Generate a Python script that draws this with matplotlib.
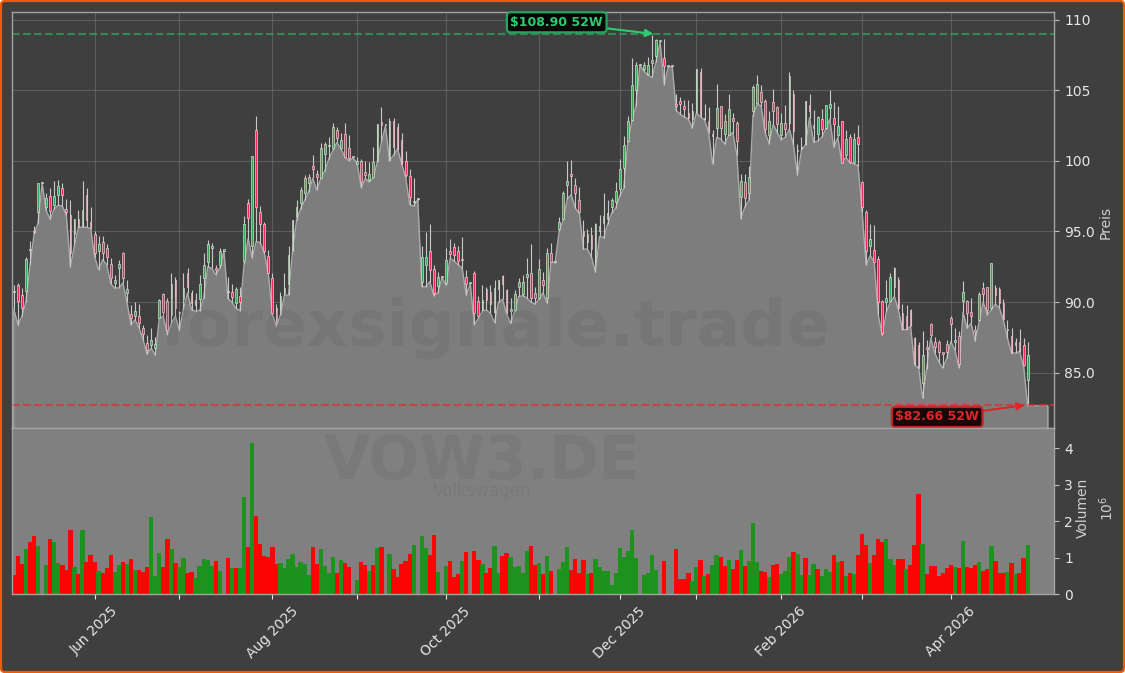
import numpy as np
import matplotlib
matplotlib.use("Agg")
import matplotlib.pyplot as plt
from matplotlib.patches import FancyBboxPatch
from matplotlib.transforms import IdentityTransform

opens = [90.7,91.2,90.5,90.8,93.7,95.05,96.35,98.45,96.7,97.5,
 96.9,97.6,98.1,96.6,96.15,94.8,95.85,95.4,97.6,95.7,
 94.8,93.6,94.25,93.8,92.7,91.35,92.4,93.5,90.65,89.15,
 89,89,88.15,87.1,87,86.75,88.9,90.55,90.1,89.1,
 91.6,89.25,90.25,92.05,90.65,89.8,90.25,91.7,92.85,93.8,
 92.4,92.6,93.65,90.7,90.7,89.95,90.45,92.9,97,93.95,
 102.2,96.4,95.5,93.25,91.7,89.6,89.15,90.65,91.3,93.7,
 96,97,97.7,98.4,99.6,99.05,98.8,100.45,101.05,100.9,
 102.2,100.9,101.9,100.9,100.25,99.8,100,99.2,98.65,98.85,
 100,102.75,102.5,100.05,102.8,102.4,101.45,100,98.9,97.1,
 97.3,91.4,92.6,93.65,92.35,91.15,91.8,91.35,93.65,93.9,
 93.6,93,91.75,91.35,92.05,90.1,89.45,90.95,90.75,89.3,
 90.95,91.85,90.85,89.4,89.45,91.05,90.6,91.75,92.05,90.65,
 90.3,91.55,90.3,93.45,92.85,95.2,95.85,98.3,99.1,98.3,
 97.2,95,94.25,94.75,92.9,95,95.6,95.9,96.7,97.1,
 98,99.5,101.4,102.9,105,106.8,106.5,106.15,106.9,107.4,
 108.45,107.3,106.7,106.7,104.05,104.2,103.85,103.4,102.95,103.45,
 106.3,102.95,102.85,101.9,102.35,103.85,101.9,101.85,103,102.7,
 97.45,98.5,97.7,103.55,104.1,104.85,104.25,101.8,104.15,103.8,
 101.8,102.7,102.7,104.7,100.75,100.9,101.2,103.95,102.5,101.9,
 102.95,102.35,103.75,103,101.8,102.8,100.4,101.7,99.9,101.7,
 98.5,96.4,94,93.7,93.05,90.1,90,90.05,91.05,91.55,
 89.2,89,89.45,87.45,87,84.25,86.85,88.45,87.2,87.15,
 86.45,87.05,88.9,87.2,87.6,90.05,90.1,89.3,88.05,88.75,
 91,91.05,89.6,91,90.9,89.95,88,87.6,87.2,87.15,
 87,84.5]
highs = [91.2,91.35,91,93.2,94.3,95.4,98.45,98.5,97.7,98.1,
 98.55,98.65,98.4,97.3,97.25,95.85,96.5,98.55,98.1,96.75,
 95,94.7,94.7,94.1,93.15,91.9,93,93.55,91.6,89.8,
 90,89.85,88.4,87.7,88.2,87.5,90.25,90.65,90.3,92.05,
 91.8,89.4,92.05,92.4,90.85,90.65,91.9,93.45,94.4,94.2,
 92.6,93.8,93.7,91.8,91.25,91.1,91.1,96.1,97.3,100.35,
 103.15,96.8,95.65,93.7,92.05,89.85,90.75,92.05,93.95,95.8,
 97.2,98.15,99,99.1,100.4,99.35,101.25,101.3,101.7,102.7,
 102.4,102,102.7,101.85,100.3,100.25,100.1,100,99.9,101,
 102.6,103.8,102.55,103,103,102.7,102,100.7,99.45,98.8,
 97.35,94,94.95,95.5,92.6,92.15,91.85,93.85,94.45,94.2,
 94,94.6,92.3,91.4,92.2,90.45,91.2,91.1,91.2,91.6,
 91.6,91.9,90.9,90.3,90.85,91.7,91.9,93.1,94.1,91.1,
 93.05,92.15,93.8,94.2,92.9,96,97.85,100,100.05,98.8,
 98.15,95.8,95.2,95.3,95.6,96.2,97.75,97.25,97.4,98.5,
 100.15,101.75,103.15,107.3,107,106.85,107,107.35,108.9,108.6,
 108.5,108.6,106.75,106.75,104.7,104.5,104.3,104.3,104.1,106.5,
 106.6,104,103.8,102.2,105.45,103.9,103.3,104.7,103.4,102.8,
 99.1,99.1,99.65,105.4,106.1,105.4,104.35,103.5,105.1,103.9,
 103.4,103.95,106.25,105,101.2,101.65,104.25,104.75,103.6,103.15,
 103.65,103.95,105,104.15,103.9,102.85,102.15,101.9,101.95,102.5,
 98.6,96.5,95.5,95.45,93.25,90.15,91.6,92.05,92.5,91.75,
 89.85,89.8,89.5,87.5,87.2,87.95,87.35,88.55,87.5,87.3,
 86.5,87.3,89,88.2,87.95,91.5,90.15,90.3,88.4,90.75,
 91.45,91.1,92.75,91.2,91.1,90.2,88.75,88.15,87.45,88.1,
 87.45,87.2]
lows = [89.5,88.4,89,90,92.6,94.8,95.6,98.4,96.5,95.85,
 96.6,96.85,96.8,96.15,92.5,94,95.3,95.3,95.3,95.2,
 93.2,92.3,93,92.65,91.3,91,91,91.35,90,88.4,
 88.75,88.2,87.35,86.3,86.75,86.25,88.85,89,87.7,88.5,
 89,88,89.55,90.65,89.45,89.35,89.4,90.3,92.5,92.4,
 91.95,92.4,93.6,90.25,90,89.55,89.4,92.7,94.5,93.15,
 94.3,94.2,93.5,92,89.15,88.3,89.1,90.5,90.5,93.6,
 95.8,96.6,97.2,97.8,98.75,97.95,98.75,99.3,100.15,100.75,
 101.3,100.85,100.25,100,100.2,99.8,98.1,98.75,98.5,98.8,
 99.95,101.3,102.45,100,100.4,100.85,99.8,98.85,96.9,96.8,
 97.25,91.1,91.1,91.45,90.45,90.65,91.75,91.2,93.1,92.9,
 92.65,92.4,90.5,91.3,88.4,88.85,89.35,89.45,89.2,88.55,
 90,90.2,89.15,88.5,89.35,90.4,90.45,90.3,90,89.85,
 90.2,90.65,89.95,92.85,92.8,95,95.8,97.3,97.6,96.65,
 96.3,93.75,93.75,93.2,92.1,94.65,94.55,95.5,96.3,96.65,
 97.5,98.05,101.3,102.8,103.85,106.75,106.35,106.05,105.9,107,
 108.4,105.4,106.65,106.65,103.55,103.3,103.1,102.95,102.3,103.4,
 103.1,102.9,102,99.8,101.65,101.55,101.2,101.8,102,100.4,
 95.9,96.75,97.2,103.2,104,103.9,102,101.2,102.6,102,
 101.5,101.65,102.25,101.15,99,100.75,101.15,103.05,101.3,101.4,
 101.65,102.25,102.95,100.95,101.65,99.85,100.25,99.85,99.8,99.65,
 96.4,92.65,93.3,92.85,89.1,87.65,89.3,90,90.4,89.45,
 88.05,88.05,88.3,85.55,85.35,83.2,85.3,87.45,86.4,85.75,
 85.35,86.05,87.2,86.6,85.35,89.3,88.15,88.5,87.25,88.65,
 90,89.1,89.45,89.85,89.6,88.7,87.45,86.4,86.4,86.5,
 85.45,82.66]
closes = [90.7,90.1,89.6,93.05,93.7,94.95,98.45,98.45,97.4,96.45,
 97.5,98.2,97.6,96.4,93.5,95.85,95.3,96.55,95.8,95.3,
 93.5,94.1,93.5,93.2,91.7,91.6,92.7,91.7,90.9,88.9,
 89.35,88.5,87.75,86.6,87.3,87.05,90.15,89.3,88,91.3,
 89.6,89.2,91,91.1,89.95,90.15,91.25,92.65,94.1,94,
 92.3,93.6,93.65,90.7,90.35,90.9,90,95.55,95.95,100.35,
 96.75,95.55,93.6,92.05,89.2,88.65,90.4,91,93.3,95.8,
 96.75,97.9,98.75,98.85,99.4,98.85,100.9,101.2,101.1,102.4,
 101.6,101.45,100.3,100.2,100.25,100,98.5,99,99.05,99.9,
 102.6,102.55,102.5,102.8,100.95,100.85,99.8,99,97.45,97.15,
 97.3,93.2,93.2,92.3,90.65,91.75,91.8,93,93.4,93.3,
 92.9,93.05,91.3,91.35,89.2,89.05,90.15,90.15,89.9,91,
 91.6,91.25,89.3,89.5,90.55,91.4,91.45,92,90.3,90.3,
 92.35,91.2,93.45,92.85,92.85,95.7,97.7,98.55,98.9,97.7,
 96.35,94.7,94.8,93.75,95.5,95.4,96.1,96.3,97.2,97.85,
 99.4,101.15,102.8,105.4,106.8,106.8,106.8,106.75,107.1,108.55,
 108.45,106.7,106.7,106.7,103.9,104.05,103.65,103,103.5,106.5,
 103.25,103.05,102.15,101.75,103.75,102.3,102.8,103.7,102.85,101.4,
 98.6,97.35,98.85,105.25,105.45,104.15,102.25,102.8,103.55,102.6,
 102.7,102.25,106,102.1,100.7,100.95,104.2,103.5,102.3,103.1,
 102.25,103.95,104.05,102.6,102.45,99.85,101.55,99.9,101.55,101.2,
 96.75,93.6,94.5,92.85,90,87.8,90.3,91.75,92.4,89.55,
 88.1,88.1,88.4,85.7,85.35,86.25,86.7,87.7,86.85,86.5,
 86.35,86.5,88.45,87.3,85.65,90.7,89.2,89.05,87.9,90.55,
 90.55,89.45,92.75,90.5,89.95,88.8,88.1,86.4,87,86.55,
 85.55,86.25]
volumes = [.53,1.05,.83,1.24,1.43,1.6,1.32,0,.8,1.52,
 1.43,.85,.8,.67,1.76,.75,.56,1.76,.89,1.08,
 .89,.64,.58,.72,1.08,.61,.8,.89,.83,.97,
 .67,.67,.62,.75,2.12,.5,1.13,.75,1.52,1.24,
 .86,.75,1,.58,.61,.46,.78,.97,.94,.78,
 .92,.64,0,1,.72,.72,.72,2.67,1.3,4.15,
 2.15,1.38,1.05,1.02,1.3,.83,.86,.73,.97,1.1,
 .75,.89,.83,.53,1.3,.83,1.24,.78,.58,1.02,
 .58,.94,.86,.75,0,.39,.89,.8,.64,.8,
 1.27,1.3,0,1.1,.69,.47,.83,.91,1.1,1.35,
 0,1.6,1.27,1.08,1.63,.61,0,.78,.91,.47,
 .56,.91,1.16,0,1.19,.94,.83,.58,.72,1.32,
 .58,1.05,1.13,1.02,.75,.78,.58,1.19,1.32,.8,
 .86,.56,1.05,.64,0,.69,.89,1.3,.67,.97,
 .58,.94,.56,.58,.97,.75,.64,.64,.26,.58,
 1.27,1.02,1.19,1.76,1,0,.53,.58,1.08,.67,
 0,.91,0,0,1.24,.42,.42,.58,.37,.75,
 .94,.5,.56,.8,1.08,1.02,.78,.94,.69,.94,
 1.21,.78,.91,1.95,.89,.64,.61,.47,.8,.83,
 .56,.64,1.02,1.16,1.1,.53,1,.53,.83,.69,
 .5,.69,.61,1.08,.89,.91,.5,.58,.56,1.08,
 1.65,1.35,.86,1.08,1.52,1.43,1.52,.97,.8,.97,
 .97,.69,.8,1.35,2.75,1.38,.56,.78,.78,.5,
 .58,.72,.8,.75,.72,1.46,.75,.72,.8,.89,
 .64,.69,1.32,.91,.58,.58,.61,.86,.56,.58,
 1,1.35]
volume_sides = list(
 "RRRGRRGRGR" "GGRRRGRGRR" "RGRRRGGRGR" "GRRRGGGRRG"
 "RGGRRGGGGG" "RGRRGRGGRG" "RRRRRRGGGG" "GGGGRRGGGG"
 "RGRRRGRRGR" "GRRGRRRRRG" "RGGRRGGGRR" "RGRRRRGRRG"
 "GRRGGGGGRR" "GRGRRGGGRR" "RRGRGGGGGG" "GGGGGRGGGG"
 "RRRRRRRRGG" "RGRGGRRGRR" "GRGGGRRGRR" "GGGRGGRGGR"
 "GGGRGRGRGR" "RRGRRRGGGR" "RGRRRGRRRR" "RRRGRGRRRG"
 "RRGRRRGRGR" "RG")
tick_positions = [20, 41, 64, 85, 107, 130, 150, 169, 190, 210, 232]
tick_labels = ["Jun 2025", "", "Aug 2025", "", "Oct 2025", "", "Dec 2025", "", "Feb 2026", "", "Apr 2026"]
price_ticks = [85, 90, 95, 100, 105, 110]
price_tick_labels = ["85.0", "90.0", "95.0", "100", "105", "110"]
volume_ticks = [0, 1, 2, 3, 4]
area_padding = [82.66, 82.66, 82.66, 82.66, 82.66]
level_high = 108.98
level_low = 82.71

W, H = 1125, 673
BG = "#3f3f3f"
AREA = "#808080"
TXT = "#e6e6e6"
plt.rcParams["font.family"] = "DejaVu Sans"
fig = plt.figure(figsize=(W / 100, H / 100), dpi=100, facecolor="white")
fig.add_artist(FancyBboxPatch((1, 1), W - 2, H - 2, boxstyle="round,pad=0,rounding_size=4",
                              transform=IdentityTransform(), fc=BG, ec="#f05a00", lw=1.6, zorder=-5))

L, R = 12.4, 1054.3
ax = fig.add_axes([L / W, 1 - 428.3 / H, (R - L) / W, (428.3 - 12.3) / H])
axv = fig.add_axes([L / W, 1 - 594.3 / H, (R - L) / W, (594.3 - 428.3) / H], sharex=ax)

x = np.arange(len(opens))
o, h, l, c = map(np.array, (opens, highs, lows, closes))
ax.set_facecolor(BG)
ax.set_ylim(81.07, 110.51)
ax.set_xlim(-0.36, 257.59)
ax.grid(True, color="#8a8a8a", lw=0.8, alpha=0.4, zorder=0)
ax.set_axisbelow(True)

# area under the lows
ax_low = np.concatenate([l, area_padding])
ax_x = np.arange(len(ax_low))
ax.fill_between(ax_x, ax_low, 81.07, color=AREA, alpha=0.97, lw=0, zorder=1)
ax.plot(np.r_[ax_x[0], ax_x, ax_x[-1]], np.r_[81.07, ax_low, 81.07], color="#ababab", lw=1.0, zorder=1.5)

ax.vlines(x, l, h, color="#c9c9c9", lw=0.8, zorder=2)
up = c >= o
bottoms = np.minimum(o, c)
heights = np.maximum(np.abs(c - o), 0.08)
ax.bar(x, heights, bottom=bottoms, width=0.43,
       color=np.where(up, "#38a850", "#f8285c"), edgecolor="#e8e2e2", lw=0.45, zorder=3)

ax.axhline(level_high, color="#2fa35f", lw=1.5, ls="--", alpha=0.75, zorder=2.5)
ax.axhline(level_low, color="#e03030", lw=1.5, ls="--", alpha=0.75, zorder=2.5)

ax.annotate("$108.90 52W", xy=(158.3, level_high), xytext=(134.4, 109.8), ha="center", va="center",
            fontsize=9, fontweight="bold", color="#2ecc71", zorder=6,
            bbox=dict(boxstyle="round,pad=0.28", fc="#050505", ec="#27a35f", lw=1.6),
            arrowprops=dict(arrowstyle="-|>", color="#2ecc71", lw=1.5, mutation_scale=11, shrinkA=0, shrinkB=0))
ax.annotate("$82.66 52W", xy=(250.3, level_low), xytext=(228.6, 81.87), ha="center", va="center",
            fontsize=9, fontweight="bold", color="#e02525", zorder=6,
            bbox=dict(boxstyle="round,pad=0.28", fc="#170707", ec="#c22525", lw=1.6),
            arrowprops=dict(arrowstyle="-|>", color="#e02525", lw=1.5, mutation_scale=11, shrinkA=0, shrinkB=0))

ax.yaxis.tick_right()
ax.set_yticks(price_ticks)
ax.set_yticklabels(price_tick_labels)
ax.yaxis.set_label_position("right")
ax.set_ylabel("Preis", color="#cfcfcf", fontsize=10, labelpad=5)
ax.yaxis.set_label_coords(1.0 + (1099 - R) / (R - L), 1 - (222 - 12.3) / (428.3 - 12.3))
ax.tick_params(axis="y", colors=TXT, labelsize=10, length=3.5, width=0.8, color="#c0c0c0")
ax.tick_params(axis="x", bottom=False, labelbottom=False)

axv.set_facecolor(AREA)
axv.set_ylim(0, 4.55)
colors = ["#1a941a" if s == "G" else "#ff0000" for s in volume_sides]
axv.bar(x, volumes, width=1.08, color=colors, lw=0, alpha=0.97, zorder=2)
axv.yaxis.tick_right()
axv.set_yticks(volume_ticks)
axv.yaxis.set_label_position("right")
axv.set_ylabel("Volumen\n$10^{6}$", color="#cfcfcf", fontsize=10, labelpad=5, linespacing=1.45)
axv.yaxis.set_label_coords(1.0 + (1076 - R) / (R - L), 1 - (508 - 428.3) / (594.3 - 428.3))
axv.tick_params(axis="y", colors=TXT, labelsize=10, length=3.5, width=0.8, color="#c0c0c0")
axv.set_xticks(tick_positions)
axv.set_xticklabels(tick_labels, rotation=45, ha="center", rotation_mode="default")
axv.tick_params(axis="x", colors=TXT, labelsize=10, length=3.5, width=0.8, color="#e6e6e6", pad=3.5)

for a in (ax, axv):
    for s in a.spines.values():
        s.set_color("#a3a3a3")
        s.set_linewidth(1.0)

fig.text(495 / W, 1 - 328 / H, "forexsignale.trade", ha="center", va="center", fontsize=46.4,
         fontweight="bold", color="#3f3f3f", alpha=0.1, zorder=10)
fig.text(482 / W, 1 - 462 / H, "VOW3.DE", ha="center", va="center", fontsize=43,
         fontweight="bold", color="#3f3f3f", alpha=0.1, zorder=10)
fig.text(482 / W, 1 - 491 / H, "Volkswagen", ha="center", va="center", fontsize=12,
         color="#3f3f3f", alpha=0.1, zorder=10)

fig.savefig("out.png", dpi=100, facecolor=fig.get_facecolor())
print(len(opens), len(highs), len(lows), len(closes), len(volumes), len(volume_sides))
